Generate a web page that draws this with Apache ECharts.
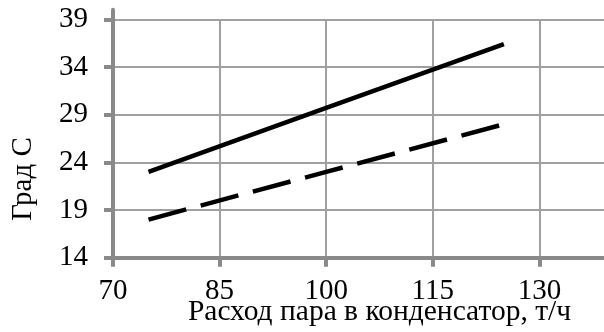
<!DOCTYPE html>
<html>
<head>
<meta charset="utf-8">
<script src="https://cdn.jsdelivr.net/npm/echarts@6/dist/echarts.min.js"></script>
<style>html,body{margin:0;padding:0;background:#fff}#c{width:604px;height:332px}</style>
</head>
<body>
<div id="c"></div>
<script>
// Data
var xValues = [75, 100, 125];
var solidValues = [23.0, 29.7, 36.4];
var dashedValues = [18.0, 23.0, 28.0];
var xTicks = [70, 85, 100, 115, 130];
var yTicks = [14, 19, 24, 29, 34, 39];
var xTitle = 'Расход пара в конденсатор, т/ч';
var yTitle = 'Град С';

var FONT = '"Liberation Serif", "Times New Roman", serif';
function pairs(xs, ys) { return xs.map(function (x, i) { return [x, ys[i]]; }); }

var chart = echarts.init(document.getElementById('c'), null, { renderer: 'canvas' });
chart.setOption({
  animation: false,
  backgroundColor: '#fff',
  grid: [
    { left: 113, top: 19.3, width: 533, height: 238.4, containLabel: false, outerBoundsMode: 'none' },
    { left: 113, top: 9.8, width: 533, height: 247.9, containLabel: false, outerBoundsMode: 'none' }
  ],
  xAxis: [{
    gridIndex: 0,
    type: 'value', min: 70, max: 145, interval: 15,
    axisLine: { show: true, lineStyle: { color: '#8a8a8a', width: 4 } },
    axisTick: { show: true, length: 9, lineStyle: { color: '#8a8a8a', width: 4 } },
    axisLabel: { color: '#000', fontFamily: FONT, fontSize: 29, margin: 19,
      formatter: function (v) { return xTicks.indexOf(v) >= 0 ? String(v) : ''; } },
    splitLine: { show: true, lineStyle: { color: '#a0a0a0', width: 2 } },
    name: xTitle, nameLocation: 'middle', nameGap: 40, nameMoveOverlap: false,
    nameTextStyle: { color: '#000', fontFamily: FONT, fontSize: 29.5 }
  }, {
    gridIndex: 1, type: 'value', min: 70, max: 145, show: false
  }],
  yAxis: [{
    gridIndex: 0,
    type: 'value', min: 14, max: 39, interval: 5,
    axisLine: { show: true, lineStyle: { color: '#8a8a8a', width: 4 } },
    axisTick: { show: true, length: 9, lineStyle: { color: '#8a8a8a', width: 4 } },
    axisLabel: { color: '#000', fontFamily: FONT, fontSize: 29, margin: 25,
      formatter: function (v) { return yTicks.indexOf(v) >= 0 ? String(v) : ''; } },
    splitLine: { show: true, lineStyle: { color: '#a0a0a0', width: 2 } }
  }, {
    gridIndex: 1, type: 'value', min: 14, max: 40,
    axisLine: { show: true, lineStyle: { color: '#8a8a8a', width: 4 } },
    axisTick: { show: false }, axisLabel: { show: false }, splitLine: { show: false }
  }],
  graphic: [{
    type: 'text', x: 23, y: 179, rotation: Math.PI / 2,
    style: { text: yTitle, fill: '#000', font: '29px ' + FONT, textAlign: 'center', textVerticalAlign: 'middle' }
  }],
  series: [{
    type: 'line', xAxisIndex: 0, yAxisIndex: 0,
    data: pairs(xValues, solidValues), showSymbol: false, symbol: 'none',
    lineStyle: { color: '#000', width: 4.5, cap: 'butt' }, z: 5
  }, {
    type: 'line', xAxisIndex: 0, yAxisIndex: 0,
    data: pairs(xValues, dashedValues), showSymbol: false, symbol: 'none',
    lineStyle: { color: '#000', width: 4.5, type: [39, 15], cap: 'butt' }, z: 5
  }]
});
</script>
</body>
</html>
